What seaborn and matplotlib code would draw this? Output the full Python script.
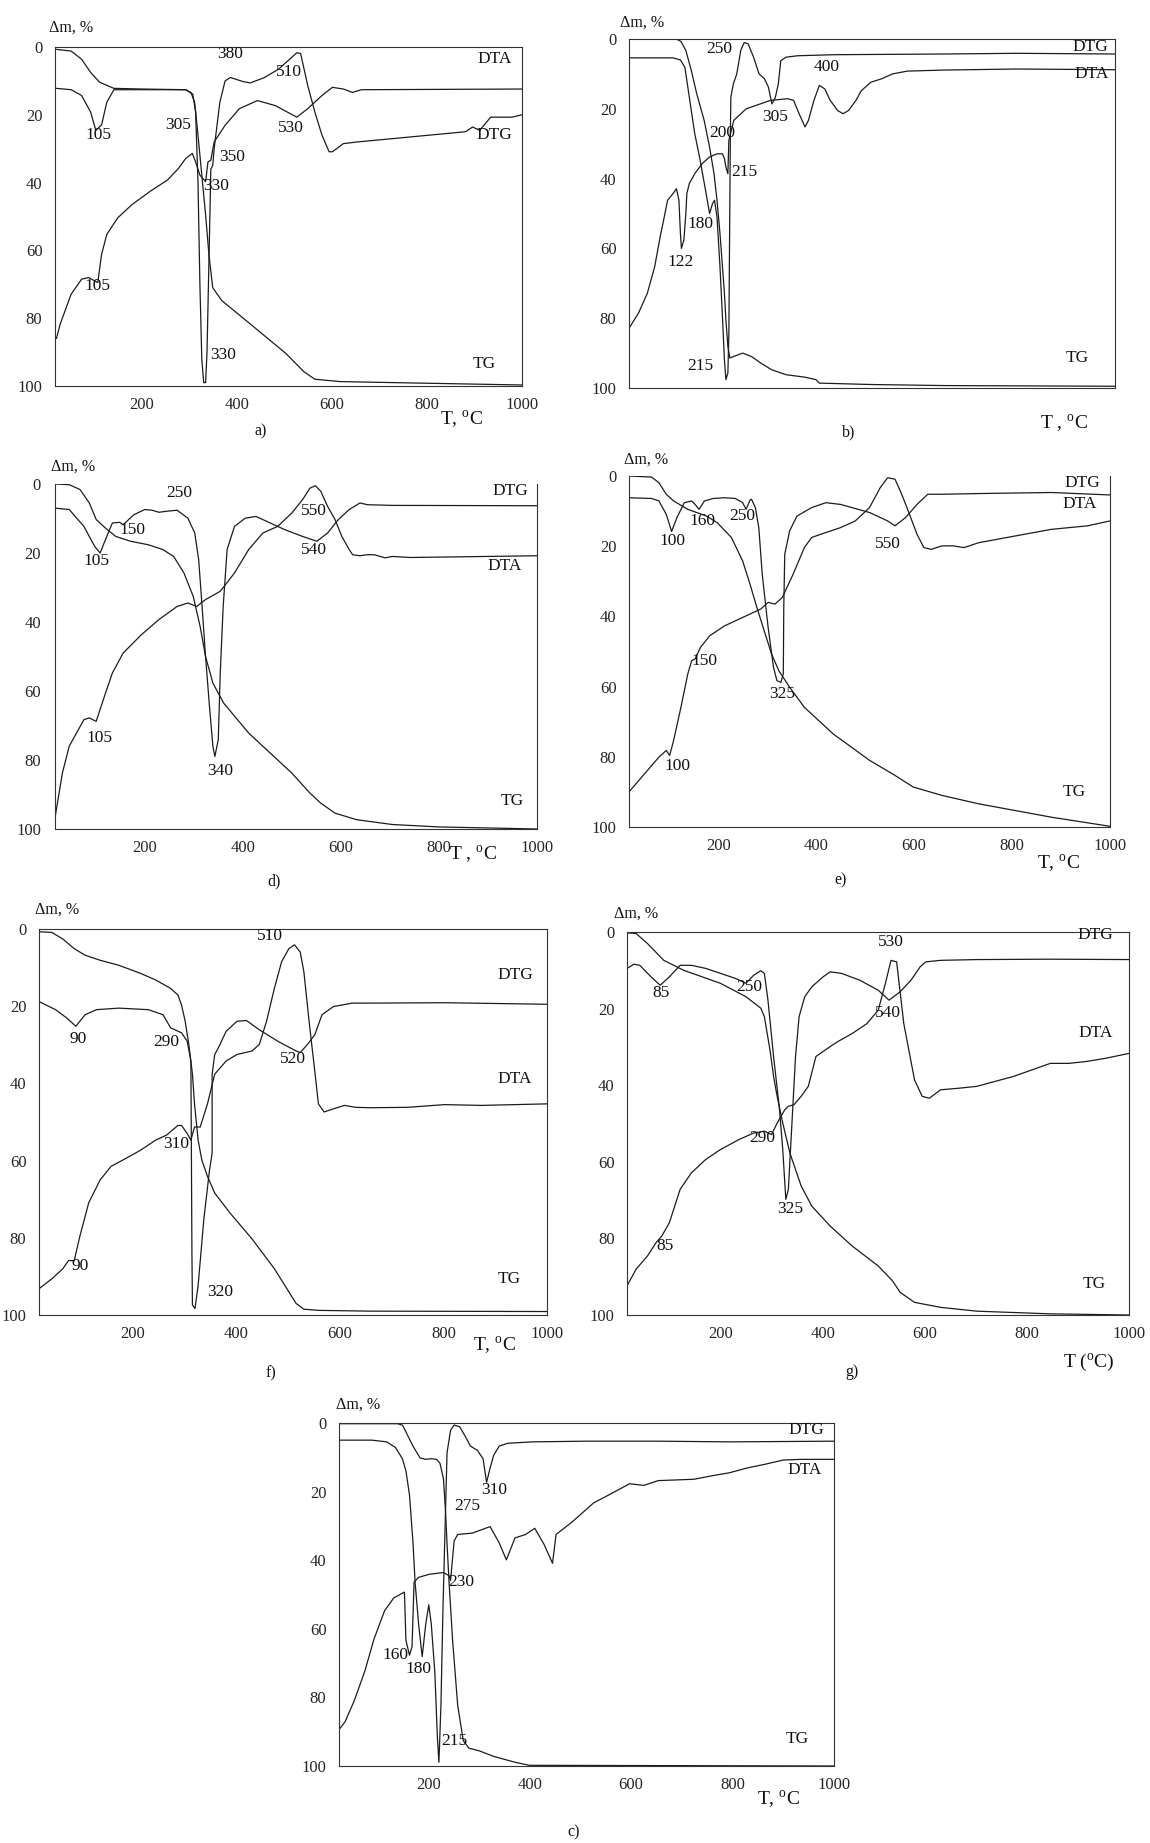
import matplotlib
matplotlib.use("Agg")
import matplotlib.pyplot as plt
import seaborn as sns

sns.set_style("white")
plt.rcParams["font.family"] = ["Liberation Serif", "DejaVu Serif"]
plt.rcParams["mathtext.fontset"] = "custom"
plt.rcParams["mathtext.rm"] = "Liberation Serif"

# ---- panel a ----
a_tg_t = [20, 51, 73, 92, 111, 141, 202, 292, 303, 311, 318, 326, 334, 341, 349, 368, 428, 503, 541, 564, 617, 805, 1000]
a_tg_v = [0.7, 1.2, 3.6, 7.5, 10.4, 12.2, 12.4, 12.6, 13.4, 16.3, 26, 37.8, 49.5, 61.2, 71, 74.8, 81.7, 90.4, 95.8, 98, 98.7, 99.2, 99.7]
a_dtg_t = [20, 51, 73, 92, 103, 115, 126, 141, 292, 307, 313, 318, 322, 326, 330, 334, 337, 340, 343, 345, 349, 352, 364, 375, 386, 413, 428, 458, 488, 511, 526, 534, 549, 564, 579, 594, 601, 624, 654, 730, 805, 881, 896, 911, 934, 956, 979, 1000]
a_dtg_v = [12.2, 12.6, 14.3, 19.2, 24.6, 23, 16.3, 12.6, 12.6, 13.9, 19.2, 40, 70, 92, 99, 99, 90, 70, 50, 36, 35, 30, 16.3, 10, 9, 10.2, 10.6, 9, 6.5, 3.6, 1.7, 1.9, 11.4, 19.2, 26, 30.9, 30.9, 28.5, 28, 27, 26, 25, 23.6, 24.6, 20.7, 20.7, 20.7, 20]
a_dta_t = [20, 28, 51, 73, 88, 107, 115, 126, 149, 179, 217, 254, 277, 292, 306, 313, 322, 334, 339, 345, 352, 375, 405, 443, 481, 526, 549, 579, 601, 624, 643, 662, 1000]
a_dta_v = [86, 81.7, 72.9, 68.5, 68, 69.5, 61.2, 55.3, 50.4, 46.5, 42.6, 39.2, 35.8, 32.9, 31.4, 33.9, 37.8, 39.7, 33.9, 33.4, 28, 23.1, 18.2, 15.8, 17.3, 20.7, 18.2, 14.3, 11.9, 12.4, 13.4, 12.6, 12.4]
a_labels = [("DTA", 942, 3.6), ("DTG", 942, 26), ("TG", 920, 93.4), ("105", 109, 26),
            ("305", 277, 23), ("380", 386, 2), ("510", 510, 7.5), ("530", 514, 24),
            ("350", 390, 32.4), ("330", 356, 41), ("105", 107, 70.5), ("330", 371, 91)]

# ---- panel b ----
b_tg_t = [17, 113, 122, 132, 143, 154, 169, 180, 189, 195, 201, 206, 210, 213, 217, 221, 228, 247, 265, 284, 306, 335, 373, 395, 402, 506, 654, 1000]
b_tg_v = [0, 0, 0.7, 3.3, 9, 15.7, 23.3, 31, 38.6, 46.2, 55.7, 65.2, 72.9, 80.5, 88.1, 91.4, 91, 90, 91, 92.9, 94.8, 96.2, 96.9, 97.6, 98.6, 99, 99.3, 99.5]
b_dtg_t = [17, 106, 121, 130, 136, 143, 150, 161, 173, 180, 186, 190, 195, 201, 206, 210, 213, 217, 219, 220, 221, 222, 223, 228, 235, 243, 250, 258, 269, 280, 291, 299, 306, 313, 319, 324, 335, 358, 432, 654, 802, 1000]
b_dtg_v = [5.4, 5.4, 6, 8.1, 13.8, 20.5, 27.1, 34.8, 44.3, 50, 47.1, 46.2, 51, 65.2, 79.5, 91.9, 97.6, 95.7, 84.3, 65.2, 46.2, 27.1, 16.7, 12.9, 10, 3.3, 1, 1.4, 5.2, 10, 11.4, 13.8, 18.6, 16.7, 12.9, 6.2, 5.2, 4.8, 4.5, 4.3, 4.1, 4.3]
b_dta_t = [17, 36, 54, 69, 80, 87, 95, 106, 113, 118, 121, 123, 128, 132, 134, 139, 150, 165, 180, 195, 206, 210, 213, 217, 219, 229, 254, 303, 338, 350, 361, 373, 380, 391, 402, 413, 424, 439, 450, 461, 476, 487, 506, 528, 550, 580, 654, 802, 1000]
b_dta_v = [82.9, 78.6, 72.9, 65.2, 56.7, 51.9, 46.2, 44.3, 42.9, 46.2, 55.7, 60, 57.6, 50, 44.3, 41.4, 38.6, 35.7, 33.8, 32.9, 32.9, 34.3, 36.7, 38.6, 29, 23.3, 20, 17.6, 17.1, 17.6, 21.4, 25.2, 23.3, 17.6, 13.3, 14.3, 17.6, 20.5, 21.4, 20.5, 17.6, 14.8, 12.4, 11.4, 10, 9.2, 8.9, 8.6, 8.8]
b_labels = [("DTG", 950, 2.4), ("DTA", 953, 10), ("TG", 924, 91.4), ("250", 199, 2.9),
            ("400", 417, 8.1), ("200", 206, 27), ("215", 250, 38), ("305", 313, 22.4),
            ("180", 161, 52.9), ("122", 121, 63.8), ("215", 161, 93.8)]

# ---- panel d ----
d_tg_t = [17, 46, 68, 87, 101, 120, 141, 171, 207, 237, 259, 280, 299, 313, 324, 339, 361, 412, 456, 500, 537, 559, 588, 632, 705, 800, 1000]
d_tg_v = [0, 0.2, 1.6, 5.5, 10.3, 12.8, 15.2, 16.6, 17.6, 19, 21, 25.8, 32.6, 41.3, 50, 57.7, 63.5, 72.2, 78, 83.8, 89.6, 92.5, 95.4, 97.3, 98.7, 99.4, 100]
d_dtg_t = [17, 46, 76, 98, 109, 120, 134, 149, 156, 178, 200, 215, 229, 244, 266, 288, 302, 310, 317, 324, 332, 339, 343, 350, 354, 360, 368, 383, 405, 427, 456, 485, 522, 551, 573, 595, 617, 639, 654, 705, 1000]
d_dtg_v = [7, 7.4, 12.3, 18.1, 20, 16.1, 11.3, 11.1, 11.8, 8.9, 7.4, 7.6, 8.2, 7.9, 7.6, 9.9, 14.2, 21.9, 35.5, 50, 64.4, 76, 79, 74.1, 54.8, 35.5, 19, 12.3, 9.9, 9.4, 11.3, 13.2, 15.2, 16.6, 14.2, 10.3, 7.4, 5.5, 6, 6.2, 6.3]
d_dta_t = [17, 32, 46, 76, 87, 101, 120, 134, 156, 193, 229, 266, 288, 306, 324, 354, 383, 412, 441, 471, 500, 522, 537, 548, 559, 573, 588, 602, 617, 624, 639, 654, 668, 690, 705, 742, 1000]
d_dta_v = [96.8, 83.8, 76, 68.3, 67.8, 68.8, 60.6, 54.8, 49, 43.7, 39.3, 35.5, 34.5, 35.5, 33.5, 31.1, 25.8, 19, 14.2, 12.3, 8.4, 4.5, 1.2, 0.5, 2.1, 6.5, 10.3, 15.2, 19, 20.5, 20.8, 20.5, 20.5, 21.4, 21, 21.3, 20.8]
d_labels = [("DTG", 946, 2.1), ("DTA", 935, 23.9), ("TG", 950, 92), ("250", 270, 2.6),
            ("150", 174, 13.2), ("105", 101, 22.4), ("550", 545, 7.9), ("540", 545, 19),
            ("105", 108, 73.6), ("340", 354, 83.3)]

# ---- panel e ----
e_tg_t = [18, 64, 79, 94, 109, 138, 176, 198, 227, 250, 265, 279, 294, 309, 324, 346, 376, 435, 509, 561, 598, 657, 732, 806, 880, 1000]
e_tg_v = [0, 0.3, 1.9, 5.2, 7.1, 9.5, 11.4, 13.3, 17.5, 24.2, 30.8, 37.4, 44.1, 50.7, 55.5, 60.2, 65.9, 73.5, 81, 85.3, 88.6, 91, 93.4, 95.3, 97.2, 99.8]
e_dtg_t = [18, 64, 79, 94, 105, 116, 131, 146, 153, 161, 172, 190, 213, 235, 250, 257, 265, 268, 276, 283, 290, 302, 313, 320, 328, 333, 334, 336, 346, 361, 391, 420, 450, 509, 546, 561, 583, 606, 628, 657, 732, 880, 1000]
e_dtg_v = [6.2, 6.4, 7.1, 10.9, 15.8, 11.8, 7.6, 7.1, 8.1, 9.5, 7.1, 6.4, 6.2, 6.4, 7.6, 9.5, 6.9, 6.6, 9, 14.7, 28, 43.1, 54.5, 58.3, 58.8, 56.4, 37.4, 22.3, 15.6, 11.4, 9, 7.6, 8.1, 10.4, 12.8, 14.2, 11.8, 8.1, 5.2, 5.2, 5, 4.7, 5.4]
e_dta_t = [18, 50, 79, 94, 101, 109, 124, 138, 146, 153, 164, 183, 213, 250, 287, 302, 316, 331, 353, 376, 391, 420, 450, 480, 509, 531, 546, 561, 572, 583, 606, 620, 635, 657, 680, 702, 732, 806, 880, 954, 1000]
e_dta_v = [90, 84.8, 80.1, 78.2, 79.6, 75.4, 65.9, 56.4, 52.6, 52.1, 48.8, 45.5, 42.7, 40.3, 37.9, 36, 36.5, 34.6, 28, 20.4, 17.5, 16.1, 14.7, 12.8, 9, 3.3, 0.5, 0.9, 4.3, 8.1, 16.6, 20.4, 20.9, 19.9, 19.9, 20.4, 19, 17.1, 15.2, 14.2, 12.8]
e_labels = [("DTG", 943, 1.9), ("DTA", 939, 8.1), ("TG", 928, 90), ("100", 107, 18.5),
            ("160", 168, 12.8), ("250", 250, 11.4), ("550", 546, 19.4), ("150", 172, 52.6),
            ("325", 331, 62), ("100", 116, 82.5)]

# ---- panel f ----
f_tg_t = [20, 45, 66, 88, 109, 138, 174, 216, 245, 274, 288, 295, 302, 309, 316, 320, 327, 334, 345, 359, 388, 431, 474, 502, 516, 531, 559, 659, 1000]
f_tg_v = [0.7, 0.9, 2.6, 5.1, 6.8, 8.1, 9.4, 11.5, 13.2, 15.4, 17.1, 19.7, 23.9, 29.9, 37.6, 45.3, 54.7, 59.8, 64.1, 68.4, 73.5, 80.3, 88, 94, 97, 98.5, 98.8, 99, 99.1]
f_dtg_t = [20, 52, 74, 91, 109, 131, 174, 231, 259, 274, 295, 306, 313, 314, 315, 316, 321, 327, 338, 349, 354, 354, 359, 366, 381, 402, 420, 445, 481, 516, 524, 538, 552, 566, 588, 624, 659, 802, 1000]
f_dtg_v = [18.8, 20.9, 23.1, 25.2, 22.2, 20.9, 20.5, 20.9, 22.2, 25.6, 26.9, 29.1, 34.2, 58.1, 83.8, 97.4, 98.3, 92.3, 75.2, 62.4, 58.1, 37.6, 32.5, 30.8, 26.5, 23.9, 23.7, 26.1, 29.1, 31.6, 32, 29.9, 27.4, 22.2, 20.1, 19.2, 19.2, 19.1, 19.5]
f_dta_t = [20, 45, 66, 77, 88, 99, 116, 138, 159, 188, 216, 245, 266, 288, 295, 306, 313, 320, 331, 345, 359, 381, 402, 431, 445, 459, 474, 488, 502, 513, 524, 531, 541, 552, 559, 570, 588, 609, 631, 659, 731, 802, 874, 1000]
f_dta_v = [93.2, 90.6, 88, 85.9, 85.9, 79.5, 70.9, 65, 61.5, 59.4, 57.3, 54.7, 53.4, 50.9, 50.9, 53, 54.7, 51.3, 51.3, 45.3, 37.6, 34.2, 32.5, 31.6, 29.9, 23.9, 15.4, 8.5, 5.1, 4.1, 6, 11.1, 23.9, 36.8, 45.3, 47.4, 46.6, 45.7, 46.2, 46.3, 46.2, 45.5, 45.7, 45.3]
f_labels = [("DTG", 938, 12), ("DTA", 938, 38.9), ("TG", 927, 90.6), ("510", 465, 1.7),
            ("90", 95, 28.6), ("290", 266, 29.2), ("520", 509, 33.8), ("310", 284, 55.6),
            ("90", 99, 87.2), ("320", 370, 94)]

# ---- panel g ----
g_tg_t = [17, 35, 57, 89, 128, 200, 250, 279, 286, 297, 304, 311, 322, 336, 358, 379, 415, 458, 509, 537, 552, 580, 631, 702, 846, 1000]
g_tg_v = [0.2, 0.4, 3, 7.4, 10, 13.4, 16.9, 19.9, 22.1, 30.8, 37.7, 42.9, 49.9, 57.7, 66.3, 71.6, 76.8, 82, 87.2, 91.1, 94.1, 96.7, 98, 99, 99.7, 100]
g_dtg_t = [17, 31, 42, 64, 82, 100, 121, 143, 171, 200, 229, 250, 265, 279, 286, 293, 304, 315, 322, 328, 333, 340, 347, 354, 365, 379, 401, 415, 437, 473, 509, 530, 552, 573, 591, 602, 631, 702, 846, 1000]
g_dtg_v = [9.5, 8.4, 8.7, 11.7, 13.9, 11.7, 8.7, 8.7, 9.5, 10.8, 12.1, 13.4, 11.3, 10.1, 10.8, 17.8, 32.5, 45.5, 56.8, 69.8, 67.2, 49.9, 32.5, 22.1, 16.9, 14.3, 11.7, 10.4, 10.8, 12.6, 15.2, 17.8, 15.6, 12.6, 9.1, 7.8, 7.4, 7.2, 7.1, 7.2]
g_dta_t = [17, 35, 57, 74, 85, 100, 121, 143, 171, 200, 236, 265, 286, 300, 311, 326, 333, 344, 358, 372, 387, 415, 430, 458, 487, 509, 523, 534, 545, 559, 580, 595, 609, 631, 666, 702, 738, 774, 810, 846, 882, 917, 953, 1000]
g_dta_v = [92.4, 88, 84.6, 81.1, 79.4, 75.9, 67.2, 62.9, 59.4, 56.8, 54.2, 52.5, 52, 52.9, 49.9, 46.4, 45.5, 45.1, 42.9, 40.3, 32.5, 29.9, 28.6, 26.5, 23.9, 20.4, 13.4, 7.4, 7.8, 23.9, 38.6, 42.9, 43.4, 41.2, 40.8, 40.3, 39, 37.7, 36, 34.3, 34.3, 33.8, 33, 31.7]
g_labels = [("DTG", 934, 0.9), ("DTA", 934, 26.5), ("TG", 932, 92), ("530", 534, 2.6),
            ("85", 84, 16), ("250", 257, 14.3), ("540", 527, 21.2), ("290", 282, 53.8),
            ("325", 336, 72.4), ("85", 92, 82)]

# ---- panel c ----
c_tg_t = [24, 139, 149, 156, 170, 184, 195, 206, 216, 223, 230, 234, 237, 241, 248, 258, 269, 280, 301, 329, 371, 399, 1000]
c_tg_v = [0.2, 0.2, 0.6, 2.6, 6.8, 10.2, 10.6, 10.4, 10.6, 11.7, 16.3, 25.7, 35.1, 46.4, 63.4, 82.3, 92.6, 94.8, 95.6, 97.2, 98.9, 99.8, 100]
c_dtg_t = [24, 89, 118, 135, 149, 156, 163, 170, 174, 181, 188, 195, 201, 206, 213, 218, 221, 225, 229, 234, 237, 244, 251, 262, 273, 283, 297, 308, 315, 322, 329, 340, 357, 406, 512, 653, 794, 1000]
c_dtg_v = [5, 5, 5.5, 7.1, 10.4, 14, 21, 35.1, 46.4, 58.7, 68.1, 58.7, 53, 58.7, 72.8, 91.7, 98.9, 82.3, 54, 25.7, 8.7, 2.1, 0.6, 1.1, 3.9, 6.7, 8, 10.4, 17.3, 13.1, 9.4, 6.7, 5.9, 5.5, 5.3, 5.3, 5.5, 5.3]
c_dta_t = [24, 36, 54, 75, 93, 114, 132, 153, 156, 163, 168, 172, 181, 202, 230, 241, 244, 251, 258, 287, 322, 340, 354, 371, 392, 410, 428, 445, 452, 484, 526, 562, 597, 625, 653, 724, 759, 794, 829, 865, 900, 935, 1000]
c_dta_v = [89.4, 87.1, 81, 72.3, 63, 54.7, 51, 49.3, 63.4, 67.7, 65.2, 46.4, 45, 44.1, 43.6, 44.5, 45.9, 34.4, 32.5, 32.1, 30.2, 35, 39.9, 33.5, 32.5, 30.7, 35.3, 40.9, 32.5, 28.8, 23.3, 20.5, 17.7, 18.2, 16.8, 16.4, 15.4, 14.5, 13.1, 12, 10.8, 10.6, 10.6]
c_labels = [("DTG", 946, 2), ("DTA", 942, 13.6), ("TG", 928, 92), ("310", 329, 19.6),
            ("275", 276, 24.2), ("230", 266, 46.4), ("160", 135, 67.7), ("180", 181, 71.8),
            ("215", 251, 92.6)]

TLABEL = "T, $^{\\mathrm{o}}$C"
TLABEL_SP = "T , $^{\\mathrm{o}}$C"

# caption, axes box (left, right, top, bottom px), x start, curves, labels,
# (dm_x, dm_y), (t_text, t_x, t_y), (cap_x, cap_y), top spine, x tick labels
panels = [
    ("a)", (55, 522, 47, 386), 17, [(a_tg_t, a_tg_v), (a_dtg_t, a_dtg_v), (a_dta_t, a_dta_v)], a_labels,
     (0.035, 1.057), (TLABEL, 0.87, -0.10), (0.44, -0.134), True, True),
    ("b)", (629, 1115, 39, 388), 17, [(b_tg_t, b_tg_v), (b_dtg_t, b_dtg_v), (b_dta_t, b_dta_v)], b_labels,
     (0.026, 1.047), (TLABEL_SP, 0.896, -0.104), (0.452, -0.128), True, False),
    ("d)", (55, 537, 484, 829), 17, [(d_tg_t, d_tg_v), (d_dtg_t, d_dtg_v), (d_dta_t, d_dta_v)], d_labels,
     (0.037, 1.051), (TLABEL_SP, 0.867, -0.074), (0.454, -0.152), False, True),
    ("e)", (629, 1110, 476, 827), 18, [(e_tg_t, e_tg_v), (e_dtg_t, e_dtg_v), (e_dta_t, e_dta_v)], e_labels,
     (0.035, 1.047), (TLABEL, 0.893, -0.104), (0.44, -0.152), False, True),
    ("f)", (39, 547, 929, 1315), 20, [(f_tg_t, f_tg_v), (f_dtg_t, f_dtg_v), (f_dta_t, f_dta_v)], f_labels,
     (0.036, 1.05), (TLABEL, 0.897, -0.08), (0.456, -0.15), True, True),
    ("g)", (627, 1129, 932, 1315), 17, [(g_tg_t, g_tg_v), (g_dtg_t, g_dtg_v), (g_dta_t, g_dta_v)], g_labels,
     (0.018, 1.047), ("T ($^{\\mathrm{o}}$C)", 0.92, -0.125), (0.449, -0.15), True, True),
    ("c)", (339, 834, 1423, 1766), 24, [(c_tg_t, c_tg_v), (c_dtg_t, c_dtg_v), (c_dta_t, c_dta_v)], c_labels,
     (0.038, 1.054), (TLABEL, 0.887, -0.10), (0.475, -0.195), True, True),
]

W, H = 1150, 1843
fig = plt.figure(figsize=(W / 100, H / 100), dpi=100)
line_color = "#1c1c1c"

for cap, (l, r, t, b), x0, curves, labels, dm, tlab, cpos, top, xlab in panels:
    ax = fig.add_axes([l / W, 1 - b / H, (r - l) / W, (b - t) / H])
    for xs, ys in curves:
        sns.lineplot(x=xs, y=ys, ax=ax, sort=False, estimator=None,
                     color=line_color, linewidth=0.9)
    ax.set_xlim(x0, 1000)
    ax.set_ylim(100, 0)
    ax.set_xticks([200, 400, 600, 800, 1000])
    ax.set_yticks([0, 20, 40, 60, 80, 100])
    if not xlab:
        ax.set_xticklabels([])
    ax.tick_params(axis="x", direction="in", length=3, labelsize=12, pad=8, color="#333333")
    if cap == "d)":
        # this panel shows short dashes at 20 and 80 only
        ax.tick_params(axis="y", direction="out", length=5, width=0.8, labelsize=12, pad=5, color="#333333")
        for val, tk in zip([0, 20, 40, 60, 80, 100], ax.yaxis.get_major_ticks()):
            if val not in (20, 80):
                tk.tick1line.set_visible(False)
    else:
        ax.tick_params(axis="y", length=0, labelsize=12, pad=9)
    ax.set_xlabel("")
    ax.set_ylabel("")
    for side, sp in ax.spines.items():
        sp.set_color("#333333")
        sp.set_linewidth(0.8)
    ax.spines["top"].set_visible(top)

    for txt, tx, ty in labels:
        ax.text(tx, ty, txt, ha="center", va="center", fontsize=12.5, color="#111111")

    ax.text(dm[0], dm[1], "\u0394m, %", transform=ax.transAxes, ha="center", va="center",
            fontsize=11.5, color="#111111")
    ax.text(tlab[1], tlab[2], tlab[0], transform=ax.transAxes, ha="center", va="center",
            fontsize=14, color="#111111")
    ax.text(cpos[0], cpos[1], cap, transform=ax.transAxes, ha="center", va="center",
            fontsize=11.5, color="#111111")

fig.savefig("out.png", dpi=100, facecolor="white")
